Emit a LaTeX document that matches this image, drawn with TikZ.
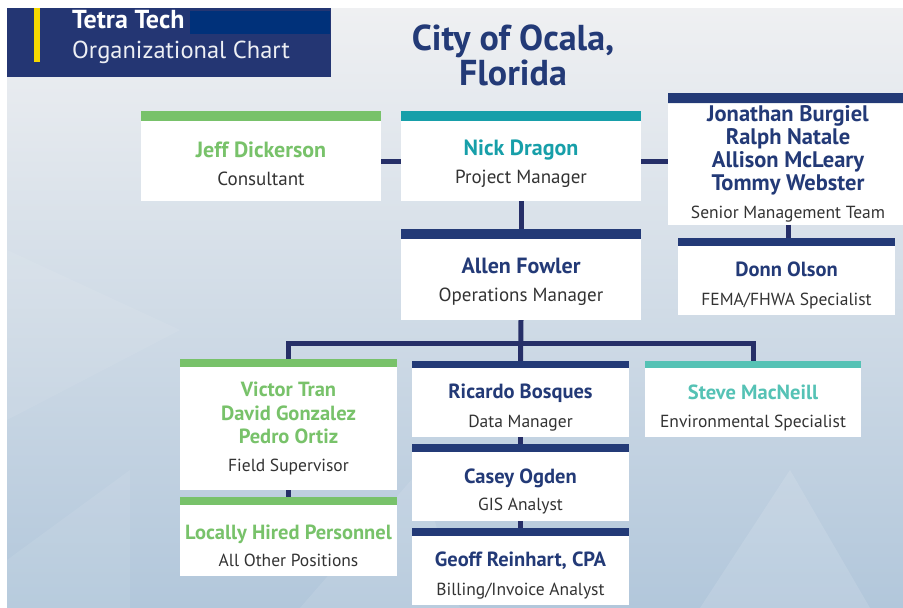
\documentclass[tikz,border=0pt]{standalone}
\usepackage{fontspec}
\setmainfont{PT Sans}
\usetikzlibrary{positioning}

\definecolor{navy}{HTML}{233A77}
\definecolor{linknavy}{HTML}{262F68}
\definecolor{leafgreen}{HTML}{78C26A}
\definecolor{pmteal}{HTML}{179FA9}
\definecolor{envteal}{HTML}{55C2B5}
\definecolor{roletext}{HTML}{333333}
\definecolor{headblue}{HTML}{243673}
\definecolor{hideblue}{HTML}{00317A}
\definecolor{markyellow}{HTML}{F5D800}
\definecolor{bgtop}{HTML}{EFF0F2}
\definecolor{bgbottom}{HTML}{B2C7DB}

\tikzset{
  card/.style 2 args={fill=white, align=center, inner sep=0pt,
    minimum width=#1, minimum height=#2,
    font=\fontsize{22}{23}\selectfont},
  smallcard/.style 2 args={card={#1}{#2},
    font=\fontsize{20.5}{23.5}\selectfont},
  link/.style={draw=linknavy, line width=5pt},
}
% nombre (con puntal opcional para bajar el texto) y cargo
\newcommand{\who}[3][0pt]{\rule{0pt}{#1}\textcolor{#2}{\bfseries #3}}
\newcommand{\duty}[2][19]{\textcolor{roletext}{\fontsize{#1}{23}\selectfont #2}}

\begin{document}
\begin{tikzpicture}[x=1pt, y=-1pt]
    \useasboundingbox (0,0) rectangle (903,608);

    % Fondo
    \fill[white] (0,0) rectangle (903,608);
    \shade[top color=bgtop, bottom color=bgbottom] (7,8) rectangle (903,608);
    \fill[white, opacity=0.10] (300,608) -- (420,470) -- (460,608) -- cycle;
    \fill[white, opacity=0.12] (700,608) -- (790,470) -- (870,608) -- cycle;
    \fill[white, opacity=0.08] (7,560) -- (130,470) -- (130,608) -- (7,608) -- cycle;
    \fill[white, opacity=0.07] (7,250) -- (180,330) -- (7,420) -- cycle;

    % Cabecera
    \fill[headblue] (7,8) rectangle (331,77);
    \fill[markyellow] (34,8) rectangle (40,62);
    \node[anchor=base west, inner sep=0pt, text=white,
      font=\fontsize{26}{28}\selectfont\bfseries] (brand) at (72,28) {Tetra Tech};
    \fill[hideblue] (190,11) rectangle (330,34);
    \node[anchor=base west, inner sep=0pt, text=white!92!headblue,
      font=\fontsize{24.5}{28}\selectfont] (chartname) at (72,58) {Organizational Chart};

    % Titulo
    \node[anchor=base, inner sep=0pt, text=navy,
      font=\fontsize{36}{40}\selectfont\bfseries] (title) at (513,50) {City of Ocala,};
    \node[anchor=base, inner sep=0pt, text=navy,
      font=\fontsize{36}{40}\selectfont\bfseries] (state) at (513,85) {Florida};

    % Tarjetas
    \node[card={240pt}{80pt}] (jeff) at (261,161)
      {\who[21pt]{leafgreen}{Jeff Dickerson}\\[5pt]\duty{Consultant}};
    \node[card={240pt}{80pt}] (nick) at (521,161)
      {\who[21pt]{pmteal}{Nick Dragon}\\[5pt]\duty{Project Manager}};
    \node[card={240pt}{121pt}, font=\fontsize{22.5}{23}\selectfont] (senior) at (788,164)
      {\who{navy}{Jonathan Burgiel}\\\who{navy}{Ralph Natale}\\
       \who{navy}{Allison McLeary}\\\who{navy}{Tommy Webster}\\[5pt]
       \duty[17.5]{Senior Management Team}};
    \node[smallcard={217pt}{69pt}] (donn) at (786.5,280.5)
      {\who[24pt]{navy}{Donn Olson}\\[5pt]\duty[17.5]{FEMA/FHWA Specialist}};
    \node[card={240pt}{81pt}] (allen) at (521,279.5)
      {\who[21pt]{navy}{Allen Fowler}\\[5pt]\duty{Operations Manager}};
    \node[smallcard={217pt}{123pt}] (victor) at (288.5,428.5)
      {\who{leafgreen}{Victor Tran}\\\who{leafgreen}{David Gonzalez}\\
       \who{leafgreen}{Pedro Ortiz}\\[4pt]\duty[17.5]{Field Supervisor}};
    \node[smallcard={217pt}{71pt}] (local) at (288.5,540.5)
      {\who[25pt]{leafgreen}{Locally Hired Personnel}\\[3pt]\duty[17.5]{All Other Positions}};
    \node[smallcard={217pt}{69pt}] (ricardo) at (520.5,402.5)
      {\who[25pt]{navy}{Ricardo Bosques}\\[5pt]\duty[17.5]{Data Manager}};
    \node[smallcard={217pt}{69pt}] (casey) at (520.5,486.5)
      {\who[25pt]{navy}{Casey Ogden}\\[3pt]\duty[17.5]{GIS Analyst}};
    \node[smallcard={217pt}{69pt}] (geoff) at (520.5,570.5)
      {\who[25pt]{navy}{Geoff Reinhart, CPA}\\[5pt]\duty[17.5]{Billing/Invoice Analyst}};
    \node[smallcard={216pt}{69pt}] (steve) at (753,402.5)
      {\who[25pt]{envteal}{Steve MacNeill}\\[5pt]\duty[17.5]{Environmental Specialist}};

    % Conectores
    \coordinate (bus) at (521,343);
    \draw[link] (jeff.east) -- (nick.west);
    \draw[link] (nick.east) -- (nick.east -| senior.west);
    \draw[link] (nick.south) -- (allen.north);
    \draw[link] (senior.south) -- (senior.south |- donn.north);
    \draw[link] (allen.south) -- (ricardo.north);
    \draw[link] (victor.north) |- (bus) -| (steve.north);
    \draw[link] (victor.south) -- (local.north);
    \draw[link] (ricardo.south) -- (casey.north);
    \draw[link] (casey.south) -- (geoff.north);

    % Barras de color
    \foreach \n/\c/\t in {jeff/leafgreen/10, nick/pmteal/10, senior/navy/10,
        allen/navy/10, donn/navy/8, victor/leafgreen/8, local/leafgreen/8,
        ricardo/navy/7, casey/navy/8, geoff/navy/8, steve/envteal/7}
      \fill[\c] (\n.north west) rectangle ([yshift=\t pt]\n.north east);
\end{tikzpicture}
\end{document}
